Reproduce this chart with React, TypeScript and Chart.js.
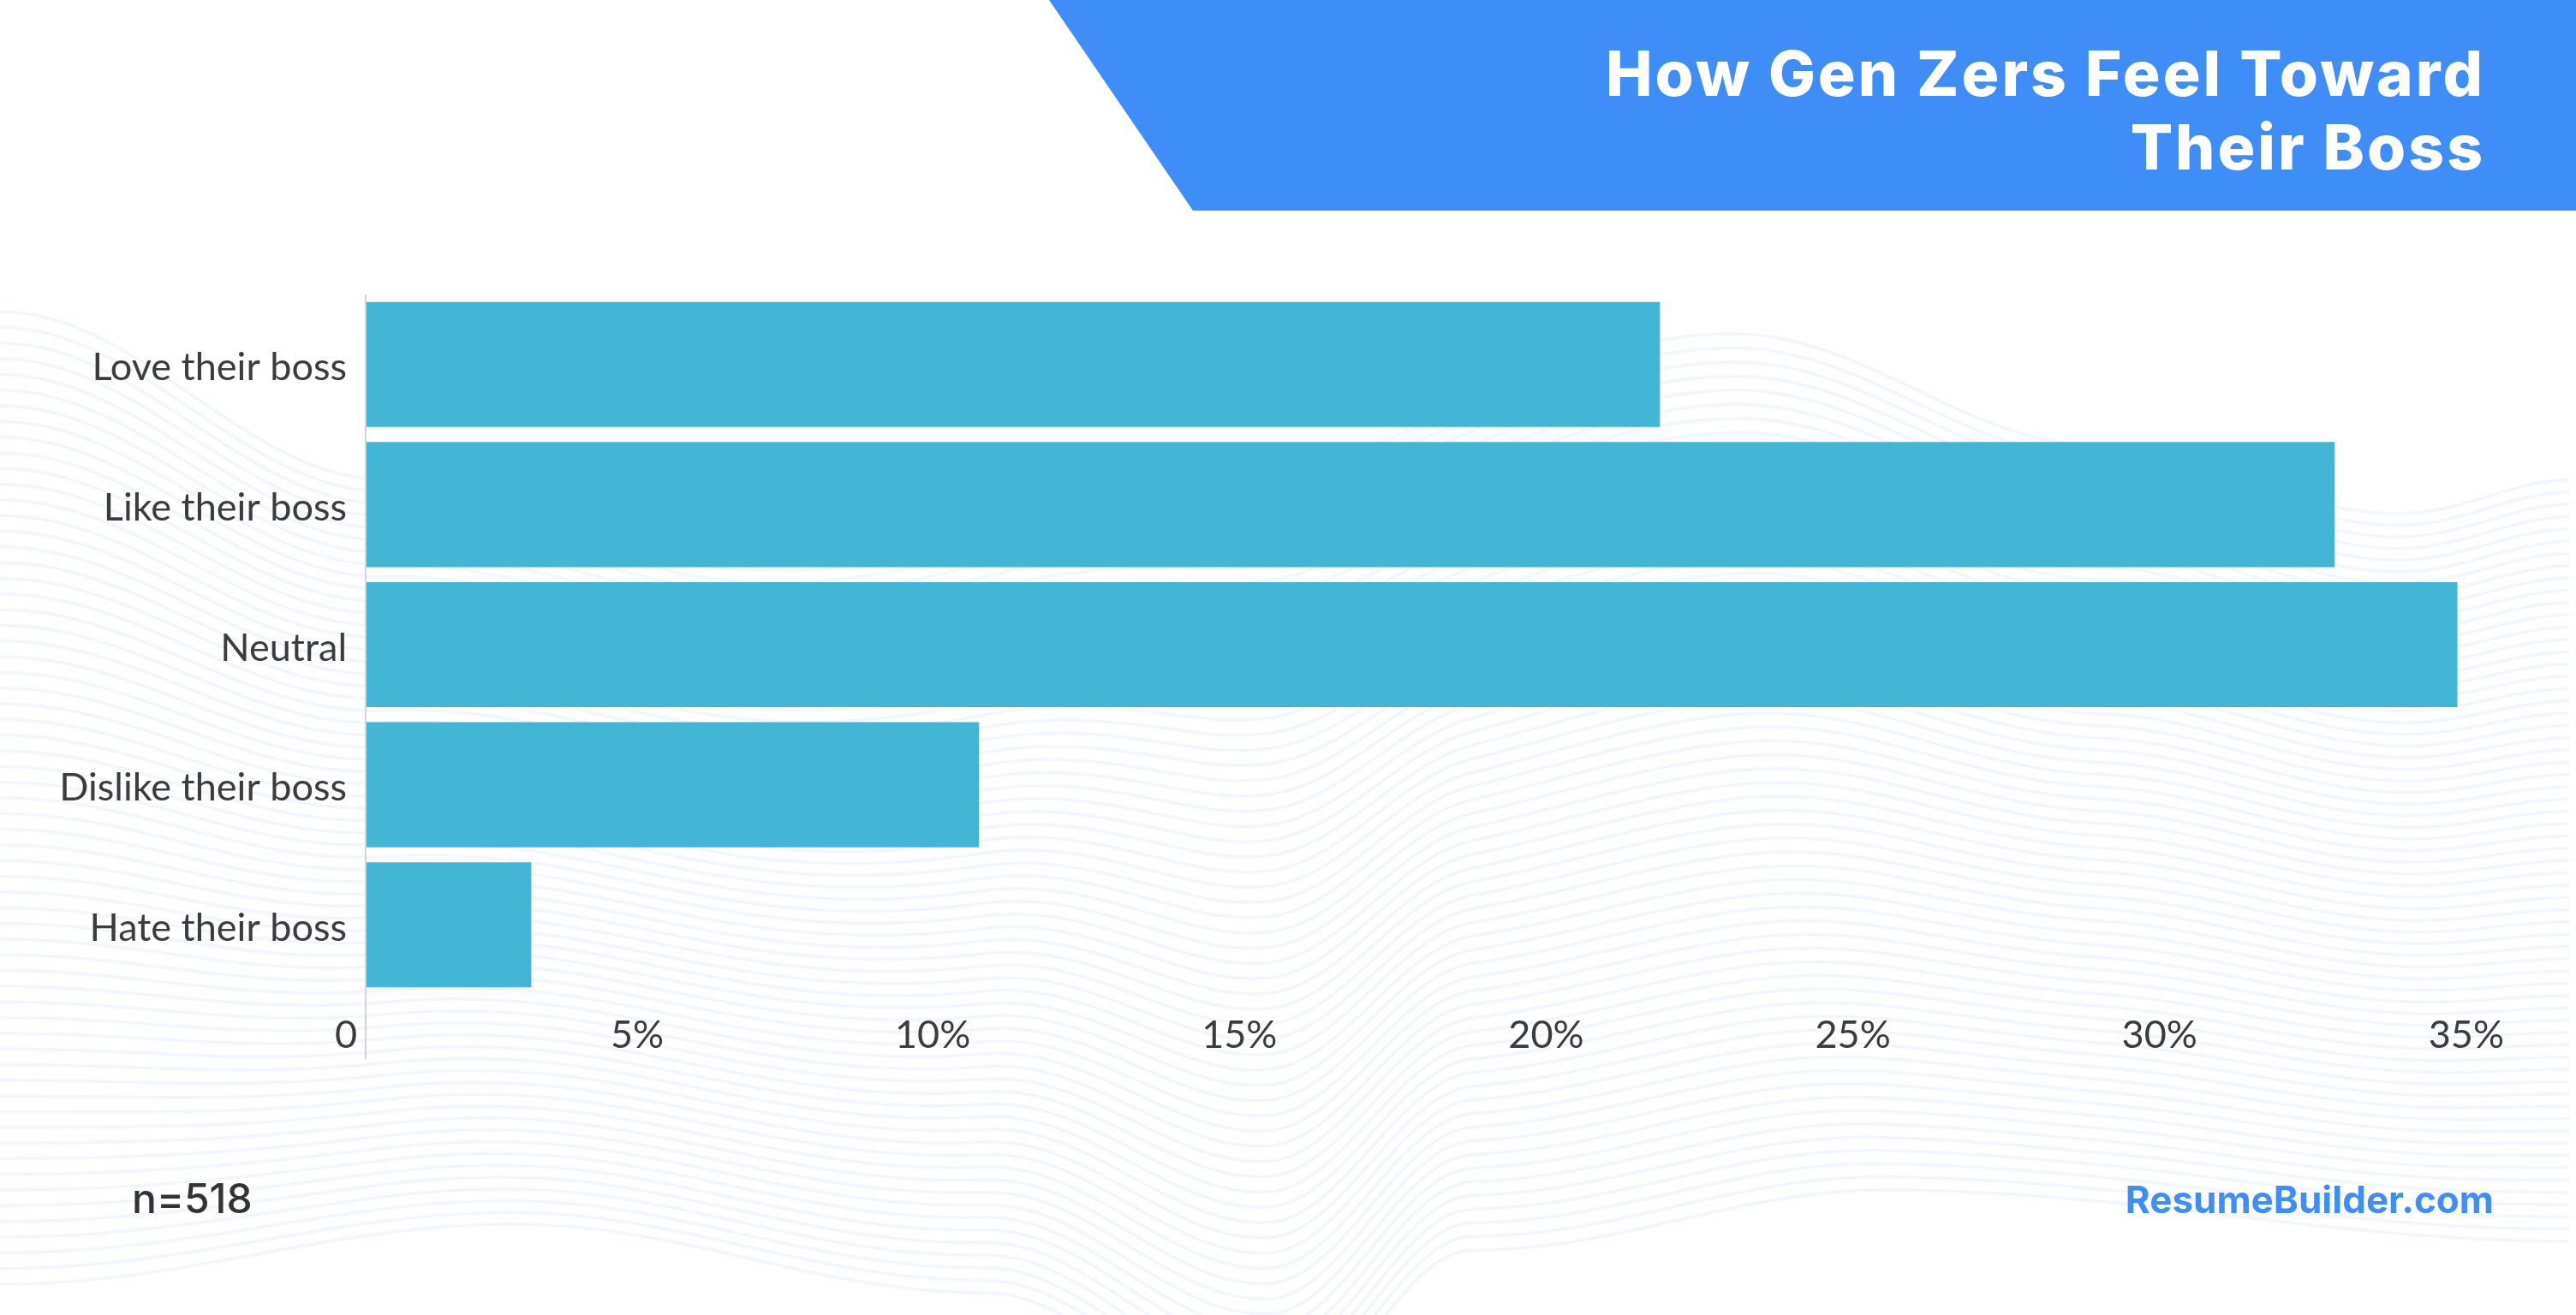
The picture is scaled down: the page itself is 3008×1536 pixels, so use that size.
import React, { useEffect, useRef } from 'react';
import { Chart, registerables } from 'chart.js';

Chart.register(...registerables);

// ---- data ----
const categories = ['Love their boss', 'Like their boss', 'Neutral', 'Dislike their boss', 'Hate their boss'];
const shares = [21.1, 32.1, 34.1, 10.0, 2.7];
const tickValues = [0, 5, 10, 15, 20, 25, 30, 35];
const titleLines = ['How Gen Zers Feel Toward', 'Their Boss'];
const sampleNote = 'n=518';
const sourceNote = 'ResumeBuilder.com';

const W = 3008;
const H = 1536;
const BAR = '#43b6d6';
const BRAND = '#3f8ef7';
const TEXT = '#3c3c3c';

// decorative background wave guides (top & bottom envelopes)
const waveTop: [number, number][] = [[0, 364], [450, 560], [900, 640], [1400, 560], [2024, 390], [2450, 520], [2800, 600], [3008, 560]];
const waveBottom: [number, number][] = [[0, 1500], [600, 1430], [1150, 1510], [1480, 1660], [1720, 1460], [2200, 1390], [3008, 1450]];

function interp(pts: [number, number][], x: number) {
  for (let k = 0; k < pts.length - 1; k++) {
    const [x0, y0] = pts[k];
    const [x1, y1] = pts[k + 1];
    if (x >= x0 && x <= x1) {
      const t = (x - x0) / (x1 - x0);
      const s = (1 - Math.cos(Math.PI * t)) / 2;
      return y0 + (y1 - y0) * s;
    }
  }
  return pts[pts.length - 1][1];
}

const backdrop = {
  id: 'backdrop',
  beforeDraw(chart: any) {
    const ctx = chart.ctx;
    ctx.save();
    ctx.fillStyle = '#ffffff';
    ctx.fillRect(0, 0, W, H);
    ctx.strokeStyle = 'rgba(210,228,248,0.3)';
    ctx.lineWidth = 3.5;
    const N = 62;
    for (let i = 0; i <= N; i++) {
      const t = i / N;
      ctx.beginPath();
      for (let x = 0; x <= W; x += 12) {
        const y = interp(waveTop, x) * (1 - t) + interp(waveBottom, x) * t;
        if (x === 0) ctx.moveTo(x, y);
        else ctx.lineTo(x, y);
      }
      ctx.stroke();
    }
    ctx.fillStyle = BRAND;
    ctx.beginPath();
    ctx.moveTo(1225, 0);
    ctx.lineTo(W, 0);
    ctx.lineTo(W, 246);
    ctx.lineTo(1393, 246);
    ctx.closePath();
    ctx.fill();
    ctx.restore();
  },
  afterDraw(chart: any) {
    const ctx = chart.ctx;
    ctx.save();
    ctx.fillStyle = '#ffffff';
    ctx.font = '800 73px Inter';
    (ctx as any).letterSpacing = '3px';
    ctx.textAlign = 'right';
    ctx.textBaseline = 'alphabetic';
    ctx.fillText(titleLines[0], 2902, 112);
    ctx.fillText(titleLines[1], 2902, 198);
    (ctx as any).letterSpacing = '0px';

    ctx.fillStyle = '#333333';
    ctx.font = '500 48px Inter';
    ctx.textAlign = 'left';
    ctx.fillText(sampleNote, 154, 1417);

    ctx.fillStyle = BRAND;
    ctx.font = '700 44px Inter';
    ctx.textAlign = 'right';
    ctx.fillText(sourceNote, 2912, 1417);
    ctx.restore();
  },
};

export default function App() {
  const ref = useRef<HTMLCanvasElement | null>(null);

  useEffect(() => {
    if (!ref.current) return;
    const chart = new Chart(ref.current, {
      type: 'bar',
      data: {
        labels: categories,
        datasets: [
          {
            data: shares,
            backgroundColor: BAR,
            borderWidth: 0,
            categoryPercentage: 1,
            barPercentage: 0.893,
          },
        ],
      },
      options: {
        indexAxis: 'y',
        animation: false,
        responsive: true,
        maintainAspectRatio: false,
        layout: { padding: { top: 344, bottom: 274, left: 0, right: 74 } },
        plugins: { legend: { display: false }, tooltip: { enabled: false }, title: { display: false } },
        scales: {
          x: {
            type: 'linear',
            position: 'bottom',
            min: 0,
            max: 35,
            afterBuildTicks: (s: any) => {
              s.ticks = tickValues.map((v) => ({ value: v }));
            },
            afterFit: (s: any) => {
              s.height = 100;
            },
            border: { display: false },
            grid: {
              display: true,
              drawOnChartArea: true,
              drawTicks: true,
              tickLength: 75,
              lineWidth: 2,
              color: (c: any) => (c.tick && c.tick.value === 0 ? '#d4d4d4' : 'rgba(0,0,0,0)'),
            },
            ticks: {
              align: 'end',
              labelOffset: -10,
              padding: -55,
              maxRotation: 0,
              autoSkip: false,
              color: TEXT,
              font: { family: 'Lato', size: 45 },
              callback: (v: any) => (Number(v) === 0 ? '0' : `${v}%`),
            },
          },
          y: {
            afterFit: (s: any) => {
              s.width = 427;
            },
            border: { display: false },
            grid: { display: false, drawTicks: false },
            ticks: {
              padding: 22,
              labelOffset: 4,
              color: TEXT,
              font: { family: 'Lato', size: 45 },
            },
          },
        },
      },
      plugins: [backdrop],
    } as any);
    return () => chart.destroy();
  }, []);

  return (
    <div style={{ position: 'fixed', left: 0, top: 0, width: W, height: H }}>
      <canvas ref={ref} />
    </div>
  );
}
